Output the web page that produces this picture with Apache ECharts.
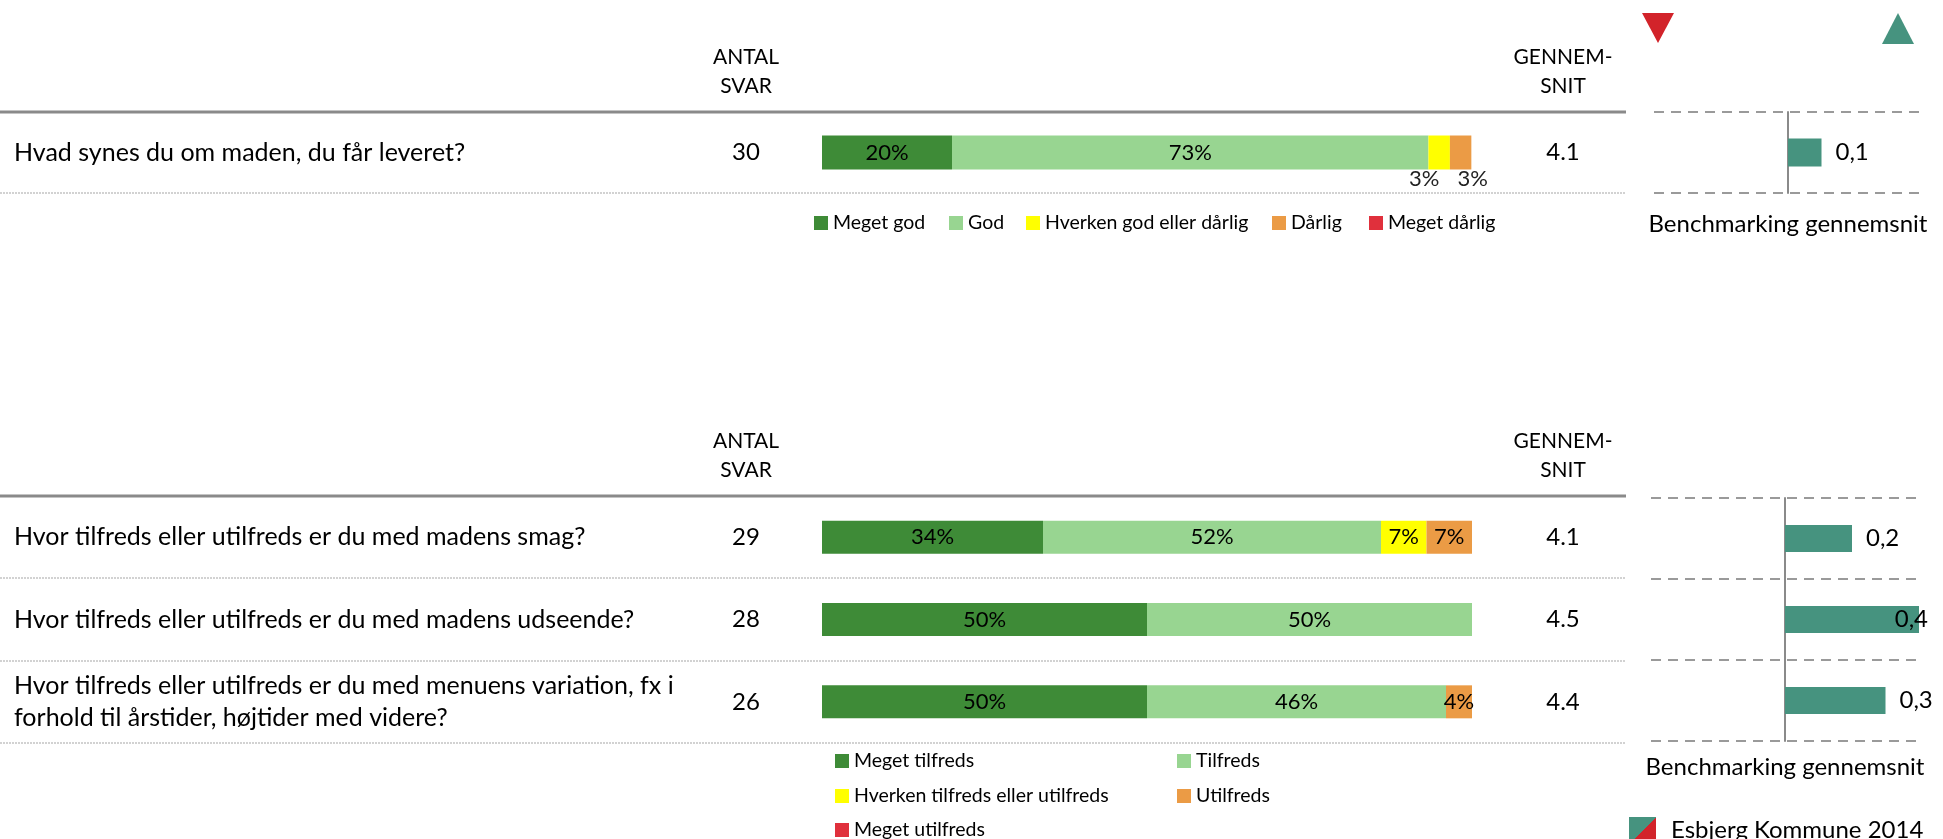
<!DOCTYPE html>
<html><head><meta charset="utf-8">
<script src="https://cdn.jsdelivr.net/npm/echarts@6/dist/echarts.min.js"></script>
<style>html,body{margin:0;padding:0;background:#fff}#c{width:1943px;height:839px}</style>
</head><body><div id="c"></div>
<script>
// ---------- data ----------
const questionsTop = ['Hvad synes du om maden, du får leveret?'];
const countsTop = ['30'];
const averagesTop = ['4.1'];
const answersTop = ['Meget god', 'God', 'Hverken god eller dårlig', 'Dårlig', 'Meget dårlig'];
const topMegetGod = [20];
const topGod = [73.3];
const topHverken = [3.3];
const topDarlig = [3.3];
const topMegetDarlig = [0];
const benchTop = [0.1];

const questionsBottom = [
  'Hvor tilfreds eller utilfreds er du med madens smag?',
  'Hvor tilfreds eller utilfreds er du med madens udseende?',
  'Hvor tilfreds eller utilfreds er du med menuens variation, fx i\nforhold til årstider, højtider med videre?'
];
const countsBottom = ['29', '28', '26'];
const averagesBottom = ['4.1', '4.5', '4.4'];
const answersBottom = ['Meget tilfreds', 'Tilfreds', 'Hverken tilfreds eller utilfreds', 'Utilfreds', 'Meget utilfreds'];
const botMegetTilfreds = [34, 50, 50];
const botTilfreds = [52, 50, 46];
const botHverken = [7, 0, 0];
const botUtilfreds = [7, 0, 4];
const botMegetUtilfreds = [0, 0, 0];
const benchBottom = [0.2, 0.4, 0.3];

const benchName = 'Esbjerg Kommune 2014';
const benchAxisTitle = 'Benchmarking gennemsnit';
const headerCount = 'ANTAL\nSVAR';
const headerAvg = 'GENNEM-\nSNIT';

// ---------- styles ----------
const FONT = 'Lato';
const answerColors = ['#3E8B37', '#98D591', '#FFFF00', '#EB9B45', '#E0303C'];
const benchColor = '#46937F';
const benchMax = 0.4;

const pctFmt = p => (p.value > 0 ? Math.round(p.value) + '%' : '');
const benchFmt = p => p.value.toFixed(1).replace('.', ',');

function stackSeries(names, arrays, xi, yi, stack, bw, smallLabel) {
  return names.map((n, i) => {
    const s = {
      name: n, type: 'bar', stack: stack, xAxisIndex: xi, yAxisIndex: yi,
      barWidth: bw, data: arrays[i],
      itemStyle: { color: answerColors[i] },
      label: { show: true, position: 'inside', formatter: pctFmt, color: '#000', fontFamily: FONT, fontSize: 22 },
      emphasis: { disabled: true }
    };
    if (smallLabel && smallLabel[i]) {
      s.label = Object.assign({}, s.label, smallLabel[i]);
    }
    return s;
  });
}

function benchSeries(arr, xi, yi, bw) {
  return {
    name: benchName, type: 'bar', xAxisIndex: xi, yAxisIndex: yi, barWidth: bw,
    itemStyle: { color: benchColor }, emphasis: { disabled: true },
    data: arr.map(v => {
      const d = { value: v };
      if (v >= benchMax) d.label = { position: 'insideRight', offset: [23, 0] };
      return d;
    }),
    label: { show: true, position: 'right', distance: 14, formatter: benchFmt, color: '#000', fontFamily: FONT, fontSize: 24 }
  };
}

function hiddenValueAxis(grid, min, max, extra) {
  return Object.assign({
    gridIndex: grid, type: 'value', min: min, max: max,
    axisLine: { show: false }, axisTick: { show: false }, axisLabel: { show: false }, splitLine: { show: false }
  }, extra || {});
}

function textAxis(grid, data, position, align, margin, size, lh) {
  return {
    gridIndex: grid, type: 'category', data: data, inverse: true, position: position,
    axisLine: { show: false }, axisTick: { show: false }, splitLine: { show: false },
    axisLabel: { align: align, margin: margin, color: '#000', fontFamily: FONT, fontSize: size,
      lineHeight: lh || 30, interval: 0, overflow: 'none', hideOverlap: false }
  };
}

function benchYAxis(grid, data) {
  return {
    gridIndex: grid, type: 'category', data: data, inverse: true,
    axisLabel: { show: false }, axisTick: { show: false },
    axisLine: { show: true, onZero: true, lineStyle: { color: '#8a8a8a', width: 2 } },
    splitLine: { show: true, interval: 0, lineStyle: { color: '#9a9a9a', width: 2, type: [10, 7] } }
  };
}

function legendItem(name, left, top, extra) {
  return Object.assign({
    data: [name], left: left, top: top, orient: 'horizontal', padding: 0,
    icon: 'rect', itemWidth: 14, itemHeight: 14,
    textStyle: { color: '#000', fontFamily: FONT, fontSize: 19.5 }, selectedMode: false
  }, extra || {});
}

const nameStyle = { color: '#000', fontFamily: FONT, fontSize: 24 };

const option = {
  animation: false,
  backgroundColor: '#fff',
  grid: [
    { left: 822, width: 650, top: 112, height: 81 },
    { left: 822, width: 650, top: 496, height: 247 },
    { left: 1654, width: 268, top: 112, height: 81 },
    { left: 1651, width: 268, top: 498, height: 243 }
  ],
  xAxis: [
    hiddenValueAxis(0, 0, 100),
    hiddenValueAxis(1, 0, 100),
    hiddenValueAxis(2, -benchMax, benchMax, { name: benchAxisTitle, nameLocation: 'middle', nameGap: 19, nameTextStyle: nameStyle }),
    hiddenValueAxis(3, -benchMax, benchMax, { name: benchAxisTitle, nameLocation: 'middle', nameGap: 14, nameTextStyle: nameStyle })
  ],
  yAxis: [
    textAxis(0, questionsTop, 'left', 'left', 808, 25),
    textAxis(0, countsTop, 'left', 'center', 76, 24),
    textAxis(0, averagesTop, 'right', 'center', 91, 24),
    textAxis(1, questionsBottom, 'left', 'left', 808, 25, 32),
    textAxis(1, countsBottom, 'left', 'center', 76, 24),
    textAxis(1, averagesBottom, 'right', 'center', 91, 24),
    benchYAxis(2, questionsTop),
    benchYAxis(3, questionsBottom)
  ],
  legend: [
    legendItem(answersTop[0], 814, 213),
    legendItem(answersTop[1], 949, 213),
    legendItem(answersTop[2], 1026, 213),
    legendItem(answersTop[3], 1272, 213),
    legendItem(answersTop[4], 1369, 213),
    legendItem(answersBottom[0], 835, 751),
    legendItem(answersBottom[1], 1177, 751),
    legendItem(answersBottom[2], 835, 786),
    legendItem(answersBottom[3], 1177, 786),
    legendItem(answersBottom[4], 835, 820),
    legendItem({
      name: benchName,
      itemStyle: { color: { type: 'linear', x: 0, y: 0, x2: 1, y2: 1, colorStops: [
        { offset: 0, color: benchColor }, { offset: 0.5, color: benchColor },
        { offset: 0.5, color: '#D2232A' }, { offset: 1, color: '#D2232A' }] } }
    }, 1629, 817, { itemWidth: 27, itemHeight: 27, textStyle: { color: '#000', fontFamily: FONT, fontSize: 24, padding: [0, 0, 0, 10] } })
  ],
  series: [].concat(
    stackSeries(answersTop, [topMegetGod, topGod, topHverken, topDarlig, topMegetDarlig], 0, 0, 'top', 34,
      [null, null, { position: 'bottom', distance: -2, offset: [-15, 0], color: '#222' },
                   { position: 'bottom', distance: -2, offset: [12, 0], color: '#222' }, null]),
    stackSeries(answersBottom, [botMegetTilfreds, botTilfreds, botHverken, botUtilfreds, botMegetUtilfreds], 1, 3, 'bot', 33),
    [benchSeries(benchTop, 2, 6, 28), benchSeries(benchBottom, 3, 7, 27)]
  ),
  graphic: [
    { type: 'line', shape: { x1: 0, y1: 112, x2: 1626, y2: 112 }, style: { stroke: '#8a8a8a', lineWidth: 3 } },
    { type: 'line', shape: { x1: 0, y1: 193, x2: 1626, y2: 193 }, style: { stroke: '#c4c4c4', lineWidth: 1.5, lineDash: [2, 1] } },
    { type: 'line', shape: { x1: 0, y1: 496, x2: 1626, y2: 496 }, style: { stroke: '#8a8a8a', lineWidth: 3 } },
    { type: 'line', shape: { x1: 0, y1: 578, x2: 1626, y2: 578 }, style: { stroke: '#c4c4c4', lineWidth: 1.5, lineDash: [2, 1] } },
    { type: 'line', shape: { x1: 0, y1: 661, x2: 1626, y2: 661 }, style: { stroke: '#c4c4c4', lineWidth: 1.5, lineDash: [2, 1] } },
    { type: 'line', shape: { x1: 0, y1: 743, x2: 1626, y2: 743 }, style: { stroke: '#c4c4c4', lineWidth: 1.5, lineDash: [2, 1] } },
    { type: 'text', x: 746, y: 72, style: { text: headerCount, textAlign: 'center', textVerticalAlign: 'middle', fill: '#000', font: '21px Lato', lineHeight: 29 } },
    { type: 'text', x: 1563, y: 72, style: { text: headerAvg, textAlign: 'center', textVerticalAlign: 'middle', fill: '#000', font: '21px Lato', lineHeight: 29 } },
    { type: 'text', x: 746, y: 456, style: { text: headerCount, textAlign: 'center', textVerticalAlign: 'middle', fill: '#000', font: '21px Lato', lineHeight: 29 } },
    { type: 'text', x: 1563, y: 456, style: { text: headerAvg, textAlign: 'center', textVerticalAlign: 'middle', fill: '#000', font: '21px Lato', lineHeight: 29 } },
    { type: 'polygon', shape: { points: [[1642, 13], [1674, 13], [1658, 43]] }, style: { fill: '#D2232A' } },
    { type: 'polygon', shape: { points: [[1882, 44], [1914, 44], [1898, 13]] }, style: { fill: benchColor } }
  ]
};

const chart = echarts.init(document.getElementById('c'), null, { renderer: 'canvas' });
chart.setOption(option);
</script>
</body></html>
